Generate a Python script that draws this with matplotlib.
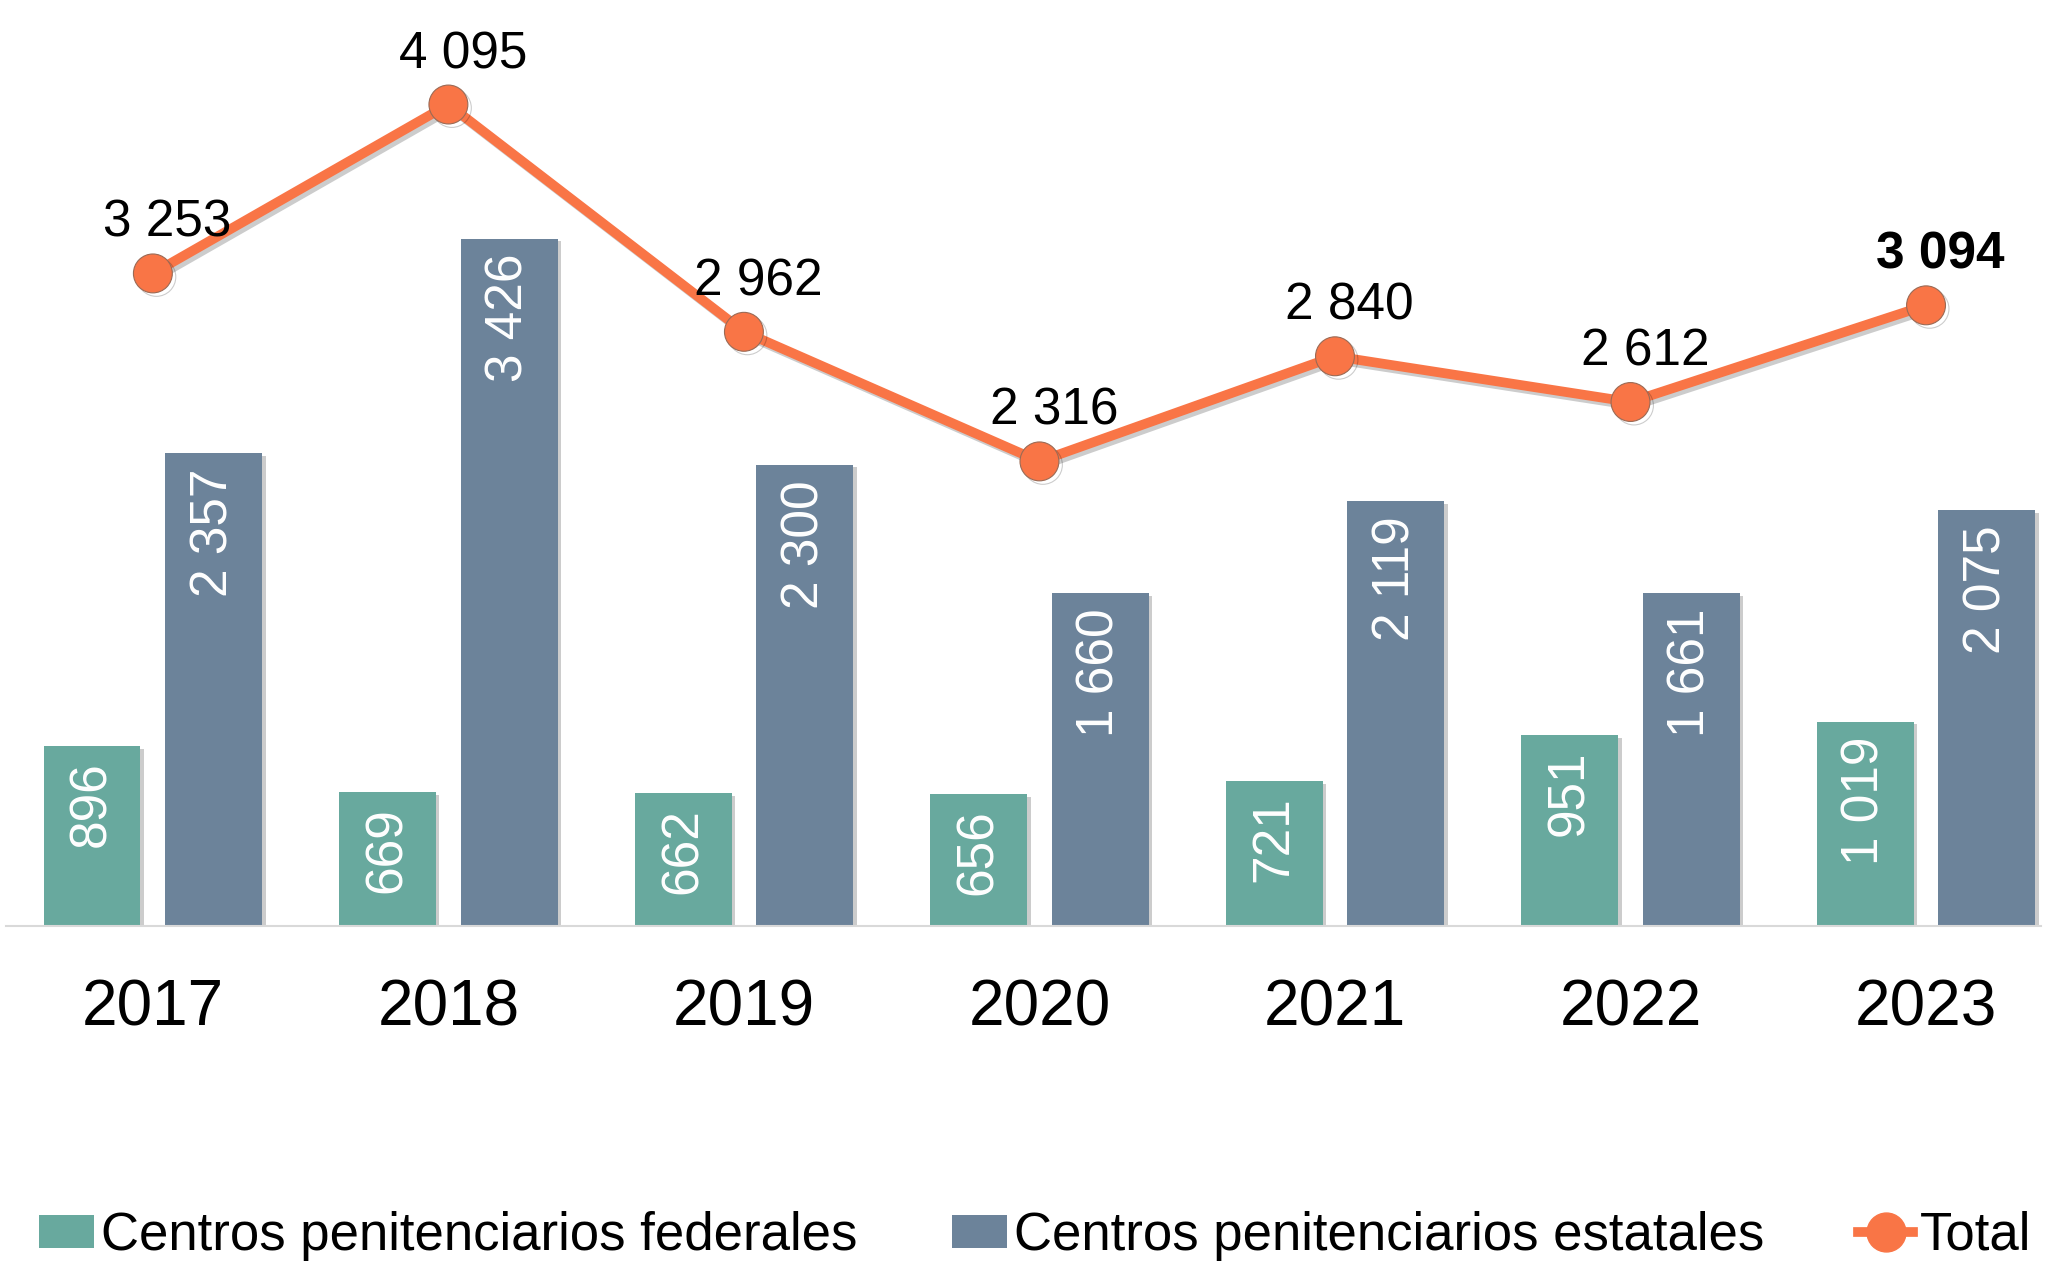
import matplotlib
matplotlib.use("Agg")
import matplotlib.pyplot as plt
import matplotlib.patheffects as pe
from matplotlib.patches import Patch
from matplotlib.lines import Line2D
import numpy as np

plt.rcParams['font.family'] = ['Liberation Sans', 'DejaVu Sans']

years = ["2017", "2018", "2019", "2020", "2021", "2022", "2023"]
federales = [896, 669, 662, 656, 721, 951, 1019]
estatales = [2357, 3426, 2300, 1660, 2119, 1661, 2075]
total = [3253, 4095, 2962, 2316, 2840, 2612, 3094]

labels_series = ["Centros penitenciarios federales",
                 "Centros penitenciarios estatales",
                 "Total"]

c_fed = "#68A99E"
c_est = "#6C839A"
c_tot = "#F97546"

W, H = 2049, 1263
fig = plt.figure(figsize=(W / 100, H / 100), dpi=100)
ax = fig.add_axes([6 / W, (H - 926) / H, (2041 - 6) / W, 926 / H])

x = np.arange(len(years))
bw = 0.328
off = 0.206

shadow = [pe.SimplePatchShadow(offset=(2.5, -2), shadow_rgbFace="#000000", alpha=0.2), pe.Normal()]

b1 = ax.bar(x - off, federales, width=bw, color=c_fed, zorder=2)
b2 = ax.bar(x + off, estatales, width=bw, color=c_est, zorder=2)
for b in list(b1) + list(b2):
    b.set_path_effects(shadow)

for xi, v in zip(x - off, federales):
    ax.annotate(f"{v:,}".replace(",", " "), (xi, v), xytext=(0, -11),
                textcoords="offset points", rotation=90, ha="center", va="top",
                color="white", fontsize=37, zorder=3)
for xi, v in zip(x + off, estatales):
    ax.annotate(f"{v:,}".replace(",", " "), (xi, v), xytext=(0, -11),
                textcoords="offset points", rotation=90, ha="center", va="top",
                color="white", fontsize=37, zorder=3)

ax.plot(x, total, color=c_tot, lw=7, marker="o", markersize=28,
        markerfacecolor=c_tot, markeredgecolor="#9A6A55", markeredgewidth=0.8,
        zorder=4,
        path_effects=[pe.SimpleLineShadow(offset=(2.5, -2.5), shadow_color="#000000", alpha=0.2),
                      pe.Normal()])

for i, (xi, v) in enumerate(zip(x, total)):
    last = i == len(total) - 1
    ax.annotate(f"{v:,}".replace(",", " "), (xi, v), xytext=(10.5, 36),
                textcoords="offset points", ha="center", va="center",
                fontsize=37, color="black",
                fontweight="bold" if last else "normal", zorder=5)

ax.set_xlim(-0.497, 6.389)
ax.set_ylim(0, 4616)
ax.set_xticks(x)
ax.set_xticklabels(years, fontsize=46)
ax.tick_params(axis="x", length=0, pad=38)
ax.set_yticks([])
for s in ["top", "right", "left"]:
    ax.spines[s].set_visible(False)
ax.spines["bottom"].set_color("#D9D9D9")
ax.spines["bottom"].set_linewidth(1.5)
ax.set_facecolor("none")

handles = [Patch(facecolor=c_fed), Patch(facecolor=c_est),
           Line2D([], [], color=c_tot, lw=7, marker="o", markersize=28)]
fig.legend(handles, labels_series, loc="center left",
           bbox_to_anchor=(39 / W, (H - 1236) / H), ncol=3, frameon=False,
           fontsize=38, handlelength=1.05, handleheight=0.6,
           handletextpad=0.13, columnspacing=1.78, borderpad=0, borderaxespad=0)

fig.savefig("out.png", dpi=100)
